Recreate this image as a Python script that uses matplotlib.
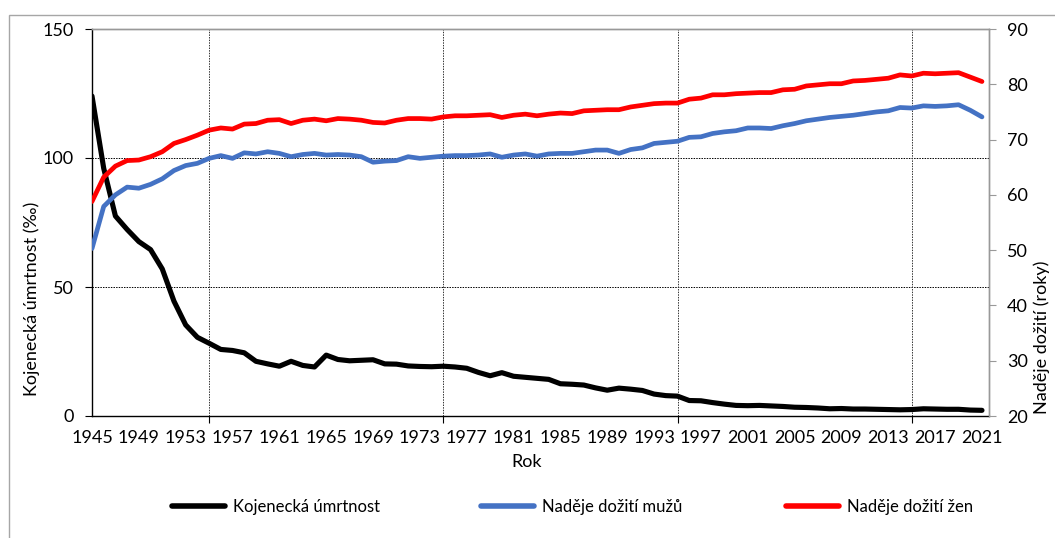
import matplotlib
matplotlib.use("Agg")
import matplotlib.pyplot as plt
from matplotlib.patches import Rectangle
from matplotlib.lines import Line2D

plt.rcParams['font.family'] = ['Lato', 'DejaVu Sans']

years = list(range(1945, 2022))

infant_mortality = [
    124.0, 96.0, 77.5, 72.3, 67.6, 64.5, 57.0, 44.5, 35.3, 30.5,
    28.2, 25.8, 25.4, 24.5, 21.2, 20.2, 19.3, 21.2, 19.6, 19.0,
    23.6, 21.9, 21.4, 21.6, 21.8, 20.2, 20.1, 19.4, 19.2, 19.1,
    19.3, 19.0, 18.5, 16.9, 15.6, 16.8, 15.4, 15.0, 14.6, 14.2,
    12.5, 12.3, 12.0, 10.9, 10.0, 10.8, 10.4, 9.9, 8.5, 7.9,
    7.7, 6.0, 5.9, 5.2, 4.6, 4.1, 4.0, 4.1, 3.9, 3.7,
    3.4, 3.3, 3.1, 2.8, 2.9, 2.7, 2.7, 2.6, 2.5, 2.4,
    2.5, 2.8, 2.7, 2.6, 2.6, 2.3, 2.2]

life_exp_men = [
    50.3, 57.9, 60.0, 61.4, 61.2, 61.9, 62.9, 64.4, 65.3, 65.7,
    66.6, 67.1, 66.6, 67.6, 67.4, 67.8, 67.5, 66.9, 67.3, 67.5,
    67.2, 67.3, 67.2, 66.9, 65.9, 66.1, 66.2, 66.9, 66.6, 66.8,
    67.0, 67.1, 67.1, 67.2, 67.4, 66.8, 67.2, 67.4, 67.0, 67.4,
    67.5, 67.5, 67.8, 68.1, 68.1, 67.5, 68.2, 68.5, 69.3, 69.5,
    69.7, 70.4, 70.5, 71.1, 71.4, 71.6, 72.1, 72.1, 72.0, 72.5,
    72.9, 73.4, 73.7, 74.0, 74.2, 74.4, 74.7, 75.0, 75.2, 75.8,
    75.7, 76.1, 76.0, 76.1, 76.3, 75.3, 74.1]

life_exp_women = [
    58.8, 63.2, 65.2, 66.2, 66.3, 66.9, 67.8, 69.3, 70.0, 70.8,
    71.7, 72.1, 71.9, 72.8, 72.9, 73.5, 73.6, 72.9, 73.5, 73.7,
    73.4, 73.8, 73.7, 73.5, 73.1, 73.0, 73.5, 73.8, 73.8, 73.7,
    74.1, 74.3, 74.3, 74.4, 74.5, 74.0, 74.4, 74.6, 74.3, 74.6,
    74.8, 74.7, 75.2, 75.3, 75.4, 75.4, 75.9, 76.2, 76.5, 76.6,
    76.6, 77.3, 77.5, 78.1, 78.1, 78.3, 78.4, 78.5, 78.5, 79.0,
    79.1, 79.7, 79.9, 80.1, 80.1, 80.6, 80.7, 80.9, 81.1, 81.7,
    81.5, 82.0, 81.9, 82.0, 82.1, 81.3, 80.5]

label_years = list(range(1945, 2022, 4))
grid_years = list(range(1955, 2016, 10))
left_ticks = [0, 50, 100, 150]
right_ticks = list(range(20, 91, 10))

series_names = ["Kojenecká úmrtnost", "Naděje dožití mužů", "Naděje dožití žen"]
colors = ["#000000", "#4472C4", "#FF0000"]

W, H = 1055, 538
fig = plt.figure(figsize=(W / 100, H / 100), dpi=100)

# outer chart border
fig.patches.append(Rectangle((9 / W, -0.05), 1.1, 1 - 15 / H + 0.05,
                             transform=fig.transFigure, fill=False,
                             edgecolor="#a6a6a6", linewidth=1.0))

ax = fig.add_axes([92 / W, 1 - 416 / H, (989 - 92) / W, (416 - 29) / H])
ax2 = ax.twinx()

ax.plot(years, infant_mortality, color=colors[0], lw=3.7, solid_capstyle='round',
        solid_joinstyle='round', zorder=3)
ax2.plot(years, life_exp_men, color=colors[1], lw=3.4, solid_capstyle='round',
         solid_joinstyle='round', zorder=3)
ax2.plot(years, life_exp_women, color=colors[2], lw=3.4, solid_capstyle='round',
         solid_joinstyle='round', zorder=3)

ax.set_xlim(1945, 2021.6)
ax.set_ylim(0, 150)
ax2.set_ylim(20, 90)

ax.set_yticks(left_ticks)
ax2.set_yticks(right_ticks)
ax.set_xticks(label_years)
ax.set_xticks(grid_years + [1945], minor=True)

fs = 13
ax.tick_params(axis='x', which='major', length=0, pad=10, labelsize=fs)
ax.tick_params(axis='x', which='minor', length=5, width=0.8, color='#000000')
ax.tick_params(axis='y', length=5, width=0.8, pad=8, labelsize=fs)
ax2.tick_params(axis='y', length=5, width=0.8, pad=8, labelsize=fs, color='#999999')

# grid
for v in [50, 100]:
    ax.axhline(v, color='#000000', lw=0.7, ls=(0, (1.5, 1.2)), zorder=1)
ax.grid(False)
ax.xaxis.grid(True, which='minor', color='#333333', lw=0.7, ls=(0, (1.5, 1.2)), zorder=1)

for s in ['top', 'right']:
    ax.spines[s].set_color('#999999')
    ax2.spines[s].set_color('#999999')
ax.spines['left'].set_color('#000000')
ax.spines['bottom'].set_color('#000000')
ax2.spines['left'].set_visible(False)
ax2.spines['bottom'].set_visible(False)
for a in (ax, ax2):
    for s in a.spines.values():
        s.set_linewidth(1.0)

fig.text(32 / W, 1 - 299 / H, "Kojenecká úmrtnost (‰)", rotation=90,
         ha='center', va='center', fontsize=fs)
fig.text(1042 / W, 1 - 337 / H, "Naděje dožití (roky)", rotation=90,
         ha='center', va='center', fontsize=fs)
fig.text(527 / W, 1 - 462 / H, "Rok", ha='center', va='center', fontsize=fs)

leg_x = [172, 481, 786]
for name, c, lx in zip(series_names, colors, leg_x):
    h = Line2D([], [], color=c, lw=4, solid_capstyle='round')
    fig.legend([h], [name], loc='center left',
               bbox_to_anchor=(lx / W, 1 - 507 / H), frameon=False,
               borderpad=0, borderaxespad=0, handlelength=3.2,
               handletextpad=0.45, fontsize=12)

fig.savefig("out.png", dpi=100)
